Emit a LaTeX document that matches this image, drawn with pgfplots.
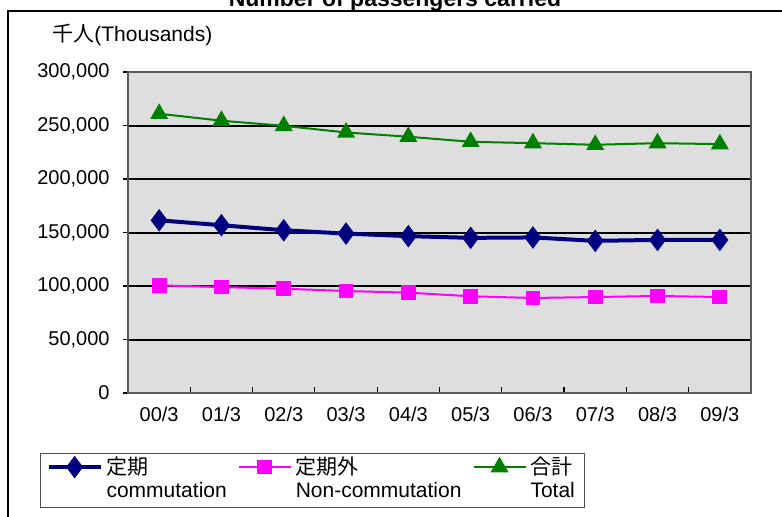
\documentclass[border=0pt]{standalone}
\usepackage{fontspec}
\setmainfont{Liberation Sans}
\newfontfamily\cjk{Noto Sans CJK JP}
\usepackage{pgfplots}
\pgfplotsset{compat=1.18}
\definecolor{navyc}{RGB}{0,0,128}
\definecolor{magc}{RGB}{255,0,255}
\definecolor{grnc}{RGB}{0,128,0}
\definecolor{bgc}{RGB}{222,222,222}
\begin{document}
\fontsize{10.5pt}{12pt}\selectfont
\begin{tikzpicture}
\useasboundingbox (0,0) rectangle (391pt,258pt);
\clip (0,0) rectangle (391pt,258pt);
\draw[line width=0.8pt] (4pt,-5pt) -- (4pt,252.5pt) -- (400pt,252.5pt);
\node[font=\bfseries\fontsize{11.5pt}{13pt}\selectfont, anchor=base] at (197.5pt,255pt) {Number of passengers carried};
\node[anchor=west, inner sep=0pt] at (26pt,240.5pt) {{\cjk 千人}(Thousands)};
\begin{axis}[
  at={(64pt,61.5pt)}, anchor=south west,
  width=311.5pt, height=160.5pt, scale only axis,
  xmin=-0.5, xmax=9.5, ymin=0, ymax=300000,
  xtick={0,...,9},
  xticklabels={00/3,01/3,02/3,03/3,04/3,05/3,06/3,07/3,08/3,09/3},
  minor xtick={-0.5,0.5,...,9.5},
  ytick={0,50000,100000,150000,200000,250000,300000},
  tick pos=left, tick align=outside,
  major tick length=2.5pt, minor tick length=3pt,
  major x tick style={draw=none},
  minor x tick style={yshift=3pt, black, line width=0.6pt},
  y tick style={black, line width=0.6pt},
  scaled y ticks=false,
  yticklabel={\pgfmathprintnumber[fixed,precision=0,1000 sep={,},assume math mode=true]{\tick}},
  tick label style={font=\fontsize{10pt}{12pt}\selectfont},
  yticklabel style={xshift=-3pt},
  xticklabel style={yshift=-1pt},
  axis background/.style={fill=bgc},
  axis line style={draw=black!65, line width=0.8pt},
  ymajorgrids, major grid style={black, line width=1pt},
  legend columns=3,
  legend cell align=left,
  legend style={at={(-0.1413,-0.187)}, anchor=north west, draw=black!70, line width=0.6pt,
    inner xsep=3pt, inner ysep=0.5pt, nodes={text depth=, inner ysep=1pt},
    cells={anchor=base west},
    font=\fontsize{10.5pt}{11.6pt}\selectfont,
    /tikz/every even column/.append style={column sep=3.5pt}},
  legend image code/.code={\draw[mark repeat=2,mark phase=2,#1] plot coordinates {(0pt,3.6pt) (13pt,3.6pt) (26pt,3.6pt)};},
]
\addplot[navyc, line width=2pt, mark=diamond*, mark size=4pt, mark options={solid}] coordinates {
(0,161400) (1,156800) (2,152100) (3,149000) (4,146600) (5,145000) (6,145400) (7,142200) (8,143100) (9,143100)};
\addlegendentry{\begin{tabular}[t]{@{}l@{}}{\cjk 定期}\\commutation\end{tabular}}
\addplot[magc, line width=1pt, mark=square*, mark size=3.2pt] coordinates {
(0,100600) (1,99000) (2,97500) (3,95300) (4,93800) (5,90400) (6,88800) (7,89700) (8,90700) (9,89700)};
\addlegendentry{\begin{tabular}[t]{@{}l@{}}{\cjk 定期外}\\Non-commutation\end{tabular}}
\addplot[grnc, line width=1pt, mark=triangle*, mark size=4.2pt] coordinates {
(0,261000) (1,254500) (2,249700) (3,243500) (4,239500) (5,234800) (6,233500) (7,232000) (8,233500) (9,232600)};
\addlegendentry{\begin{tabular}[t]{@{}l@{}}{\cjk 合計}\\Total\end{tabular}}
\end{axis}
\end{tikzpicture}
\end{document}
